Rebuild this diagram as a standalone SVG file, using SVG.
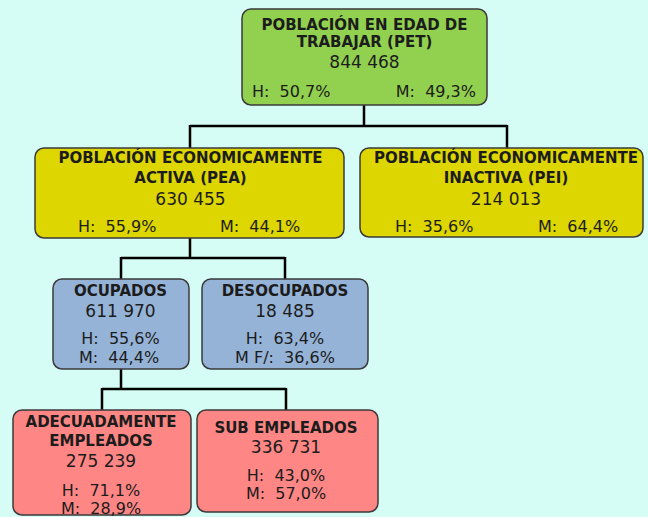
<svg xmlns="http://www.w3.org/2000/svg" width="648" height="517" viewBox="0 0 648 517">
<style>
.bg{fill:#d5fcf5}
.box{stroke:#3a3a3a;stroke-width:1.5}
.pet{fill:#92d050}
.pea{fill:#ddd600}
.blue{fill:#95b3d7}
.red{fill:#fe8684}
.t{font-family:"DejaVu Sans","Liberation Sans",sans-serif;fill:#1c1c1c;white-space:pre}
.b{font-weight:bold;font-size:15px;text-anchor:middle}
.n{font-size:17px;text-anchor:middle}
.p{font-size:16px}
.c{text-anchor:middle}
.conn{fill:none;stroke:#000;stroke-width:2.5}
</style>
<rect class="bg" x="0" y="0" width="648" height="517"/>
<g id="connectors" class="conn">
<path d="M364 105V126M190 126H507M190 125V148M507 125V148"/>
<path d="M190 238V258M121 258H285M121 257V279M285 257V279"/>
<path d="M121 369V389M102 389H286M102 388V410M286 388V410"/>
</g>
<g id="pet">
<rect class="box pet" x="242" y="9" width="245" height="96" rx="9"/>
<text class="t b" x="364.5" y="30">POBLACIÓN EN EDAD DE</text>
<text class="t b" x="364.5" y="47">TRABAJAR (PET)</text>
<text class="t n" x="364.5" y="68">844 468</text>
<text class="t p" x="252" y="97">H:  50,7%</text>
<text class="t p" x="476" y="97" text-anchor="end">M:  49,3%</text>
</g>
<g id="pea">
<rect class="box pea" x="35" y="148" width="309" height="90" rx="9"/>
<text class="t b" x="190.5" y="163">POBLACIÓN ECONOMICAMENTE</text>
<text class="t b" x="190.5" y="183">ACTIVA (PEA)</text>
<text class="t n" x="190.5" y="205">630 455</text>
<text class="t p" x="78" y="232">H:  55,9%</text>
<text class="t p" x="220" y="232">M:  44,1%</text>
</g>
<g id="pei">
<rect class="box pea" x="360" y="148" width="283" height="89" rx="9"/>
<text class="t b" x="506" y="163">POBLACIÓN ECONOMICAMENTE</text>
<text class="t b" x="506" y="183">INACTIVA (PEI)</text>
<text class="t n" x="506" y="205">214 013</text>
<text class="t p" x="395" y="232">H:  35,6%</text>
<text class="t p" x="538" y="232">M:  64,4%</text>
</g>
<g id="ocupados">
<rect class="box blue" x="53" y="279" width="136" height="90" rx="9"/>
<text class="t b" x="120.5" y="296">OCUPADOS</text>
<text class="t n" x="120.5" y="317">611 970</text>
<text class="t p c" x="120.5" y="344">H:  55,6%</text>
<text class="t p c" x="119" y="363">M:  44,4%</text>
</g>
<g id="desocupados">
<rect class="box blue" x="202" y="279" width="166" height="90" rx="9"/>
<text class="t b" x="285" y="296">DESOCUPADOS</text>
<text class="t n" x="285" y="317">18 485</text>
<text class="t p c" x="285" y="344">H:  63,4%</text>
<text class="t p c" x="285" y="363">M F/:  36,6%</text>
</g>
<g id="adecuadamente">
<rect class="box red" x="13" y="410" width="178" height="105" rx="9"/>
<text class="t b" x="101" y="427">ADECUADAMENTE</text>
<text class="t b" x="101" y="446">EMPLEADOS</text>
<text class="t n" x="101" y="467">275 239</text>
<text class="t p c" x="101" y="496">H:  71,1%</text>
<text class="t p c" x="101" y="514">M:  28,9%</text>
</g>
<g id="subempleados">
<rect class="box red" x="197" y="410" width="181" height="102" rx="9"/>
<text class="t b" x="286" y="433">SUB EMPLEADOS</text>
<text class="t n" x="286" y="453">336 731</text>
<text class="t p c" x="286" y="481">H:  43,0%</text>
<text class="t p c" x="286" y="499">M:  57,0%</text>
</g>
</svg>
